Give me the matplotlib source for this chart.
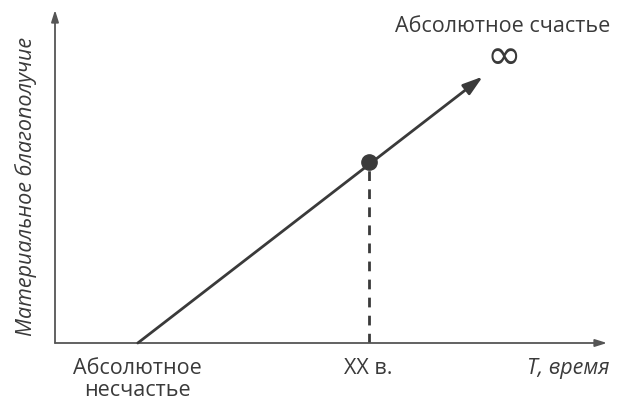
import matplotlib
matplotlib.use("Agg")
import matplotlib.pyplot as plt

# Data (arbitrary units)
line_x = [1.5, 7.75]          # start (absolute unhappiness) -> arrow tip
line_y = [0.0, 8.0]
point_x = [5.68]              # XX century
point_y = [5.45]
x_labels = ["Абсолютное\nнесчастье", "XX в."]
x_label_pos = [1.5, 5.68]

plt.rcParams['font.family'] = ['Open Sans', 'DejaVu Sans']
plt.rcParams['mathtext.fontset'] = 'dejavusans'
fig = plt.figure(figsize=(6.21, 4.04), dpi=100)
ax = fig.add_axes([55/621, (404-343)/404, (607-55)/621, (343-10)/404])
ax.set_xlim(0, 10)
ax.set_ylim(0, 10)
ax.axis('off')

axc = '#555555'
lc = '#3a3a3a'
fs = 15.5
# axes with arrows
ax.annotate('', xy=(10, 0), xytext=(0, 0),
            arrowprops=dict(arrowstyle='-|>,head_length=0.7,head_width=0.22', color=axc, lw=1.3,
                            shrinkA=0, shrinkB=0))
ax.annotate('', xy=(0, 10), xytext=(0, 0),
            arrowprops=dict(arrowstyle='-|>,head_length=0.7,head_width=0.22', color=axc, lw=1.3,
                            shrinkA=0, shrinkB=0))
# main line with arrow
ax.annotate('', xy=(line_x[1], line_y[1]), xytext=(line_x[0], line_y[0]),
            arrowprops=dict(arrowstyle='-|>,head_length=1.2,head_width=0.38', color=lc, lw=2.0,
                            shrinkA=0, shrinkB=0))
# dashed projection
ax.plot([point_x[0], point_x[0]], [0, point_y[0]], ls=(0, (3.5, 3)), color=lc, lw=2)
ax.plot(point_x, point_y, 'o', color=lc, ms=11, zorder=5)

for lbl, xp in zip(x_labels, x_label_pos):
    ax.text(xp, -0.45, lbl, ha='center', va='top', fontsize=fs, color=lc, linespacing=1.05)

ax.text(10.05, -0.45, 'Т, время', ha='right', va='top', fontsize=fs, color=lc, style='italic')
ax.text(-0.32, 4.7, 'Материальное благополучие', rotation=90, ha='right', va='center',
        fontsize=fs, color=lc, style='italic')
ax.text(10.05, 9.2, 'Абсолютное счастье', ha='right', va='bottom', fontsize=fs, color=lc)
ax.text(8.1, 8.6, r'$\infty$', ha='center', va='center', fontsize=30, color=lc)

fig.savefig('out.png', dpi=100)
